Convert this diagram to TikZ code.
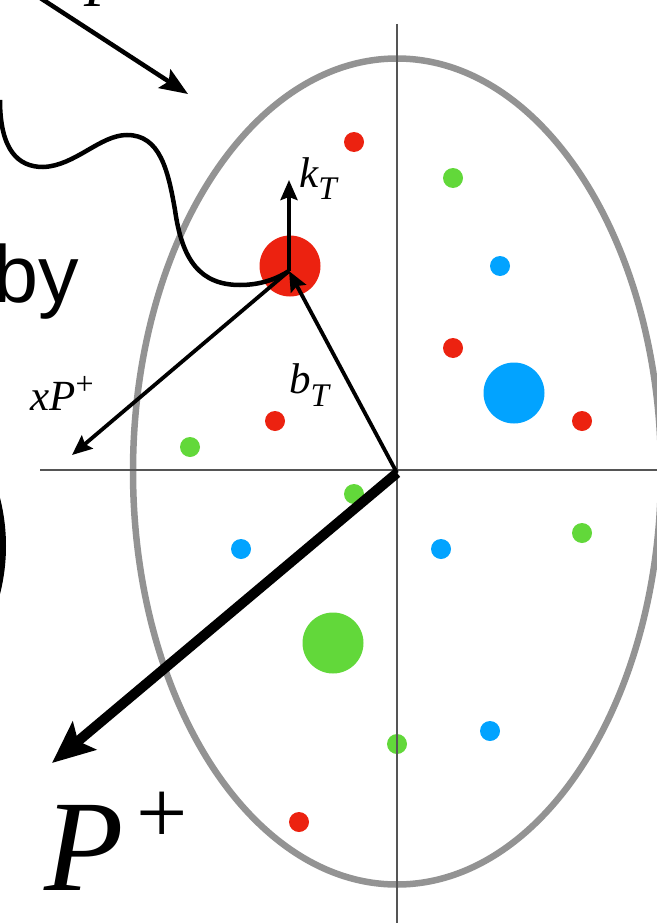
\documentclass[tikz,border=0pt]{standalone}
\usepackage{fontspec}
\usepackage{xcolor}
\usepackage{tikz}
\usetikzlibrary{arrows.meta}
\newfontfamily\lblfont{Liberation Serif}
\newfontfamily\byfont{Liberation Sans}
\definecolor{partred}{RGB}{236,34,16}
\definecolor{partgreen}{RGB}{98,216,58}
\definecolor{partblue}{RGB}{2,163,255}
\definecolor{rimgray}{RGB}{147,147,147}
\definecolor{axisgray}{RGB}{85,85,85}

\begin{document}
\begin{tikzpicture}[x=1pt,y=-1pt,
  dot/.style={circle,inner sep=0pt,minimum size=20pt},
  bigdot/.style={circle,inner sep=0pt,minimum size=61pt},
  vec/.style={line width=3.8pt,-{Stealth[length=20pt,width=17pt,inset=3pt]}},
  lbl/.style={inner sep=0pt,anchor=base west,font=\lblfont\itshape\fontsize{43}{45}\selectfont}]
  \useasboundingbox (0,0) rectangle (656,923);
  % ── Points ─────────────────────────────────────────
  \coordinate (O)    at (397,473);
  \coordinate (hit)  at (289,271);
  \coordinate (kTend) at (289,180);
  \coordinate (xPend) at (72,455);
  \coordinate (Pend) at (52,763);
  \coordinate (inA)  at (28,-10);
  \coordinate (inB)  at (188,94);
  % ── Hadron ellipse and axes ────────────────────────
  \draw[rimgray,line width=6.5pt] (397,471.5) ellipse[x radius=264pt,y radius=413pt];
  % ── Partons ────────────────────────────────────────
  \node[dot,fill=partred]   (r1) at (354,142) {};
  \node[dot,fill=partgreen] (g1) at (453,178) {};
  \node[dot,fill=partblue]  (b1) at (500,266) {};
  \node[dot,fill=partred]   (r2) at (453,348) {};
  \node[bigdot,fill=partblue] (B) at (514,393) {};
  \node[dot,fill=partred]   (r3) at (582,421) {};
  \node[bigdot,fill=partred]  (R) at (290,266) {};
  \node[dot,fill=partred]   (r4) at (275,421) {};
  \node[dot,fill=partgreen] (g2) at (190,447) {};
  \node[dot,fill=partgreen] (g3) at (354,494) {};
  \node[dot,fill=partblue]  (b2) at (241,549) {};
  \node[dot,fill=partblue]  (b3) at (441,549) {};
  \node[dot,fill=partgreen] (g4) at (582,533) {};
  \node[bigdot,fill=partgreen] (G) at (333,643) {};
  \node[dot,fill=partgreen] (g5) at (397,744) {};
  \node[dot,fill=partblue]  (b4) at (490,731) {};
  \node[dot,fill=partred]   (r5) at (299,822) {};
  % axes over the dots
  \draw[axisgray,line width=1.4pt] (40,470) -- (660,470);
  \draw[axisgray,line width=1.4pt] (397,24) -- (397,925);
  % ── Gluon line into the struck parton ──────────────
  \draw[line width=4.5pt] (0,100) .. controls (0,150) and (18,167) .. (43,167)
    .. controls (75,166) and (100,135) .. (127,135)
    .. controls (160,135) and (168,170) .. (175,210)
    .. controls (182,260) and (200,285) .. (240,285)
    .. controls (262,285) and (278,278) .. (hit);
  % ── Vectors ────────────────────────────────────────
  \draw[line width=4.5pt,-{Stealth[length=28pt,width=22pt,inset=5pt]}] (inA) -- (inB);
  \draw[vec] (hit) -- (kTend);
  \draw[vec] (O) -- (hit);
  \draw[vec] (hit) -- (xPend);
  \draw[line width=10pt,-{Stealth[length=42pt,width=36pt,inset=8pt]}] (O) -- (Pend);
  % left edge: piece of another outline
  \draw[line width=8pt] (-189,546) circle[radius=191pt];
  % ── Labels ─────────────────────────────────────────
  \node[lbl] (kT) at (299,187) {k\raisebox{-0.3em}{\fontsize{33}{33}\selectfont T}};
  \node[lbl] (bT) at (289,393) {b\raisebox{-0.32em}{\fontsize{33}{33}\selectfont T}};
  \node[lbl] (xP) at (30,410) {xP\raisebox{0.35em}{\upshape\fontsize{32}{32}\selectfont +}};
  \node[lbl,font=\lblfont\itshape\fontsize{130}{130}\selectfont] (P) at (44,890)
    {P\hspace{0.1em}\raisebox{0.36em}{\upshape\fontsize{91}{91}\selectfont +}};
  \node[lbl,font=\lblfont\itshape\fontsize{57}{57}\selectfont] (Ptop) at (84,7) {P};
  \node[inner sep=0pt,anchor=base west,font=\byfont\fontsize{81}{81}\selectfont] (by) at (-7,302) {by};
\end{tikzpicture}
\end{document}
